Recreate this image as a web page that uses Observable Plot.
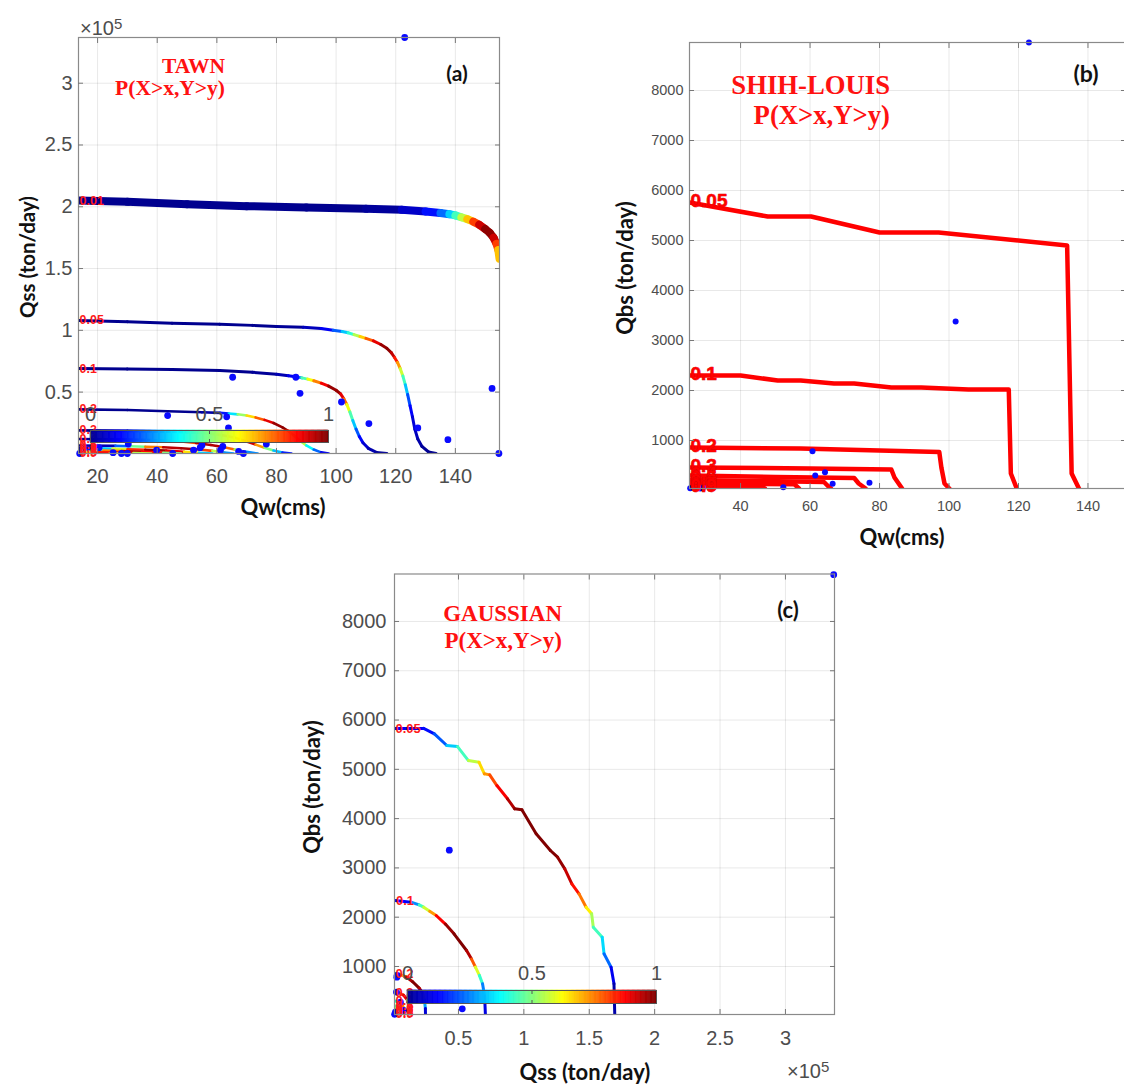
<!DOCTYPE html>
<html><head><meta charset="utf-8">
<script src="https://cdn.jsdelivr.net/npm/d3@7"></script>
<script src="https://cdn.jsdelivr.net/npm/@observablehq/plot@0.6"></script>
<style>
html,body{margin:0;padding:0;background:#fff;overflow:hidden;}
#root{position:relative;width:1124px;height:1085px;overflow:hidden;background:#fff;}
.t{position:absolute;white-space:nowrap;line-height:1;}
.axl{font-family:Lato,"Open Sans",sans-serif;font-weight:700;color:#111;}
.ttl{font-family:"Liberation Serif","Times New Roman",serif;font-weight:700;color:#ff1111;}
.tag{font-family:Lato,"Open Sans",sans-serif;font-weight:700;color:#111;}
.exp{font-family:"Liberation Sans",Arial,sans-serif;color:#4d4d4d;}
.exp sup{font-size:0.75em;vertical-align:0.45em;}
</style></head><body><div id="root"></div><script>
// ---------------- DATA ----------------
// Panel (a) TAWN : x = Qw (cms), y = Qss (x10^5 ton/day), c = colour value along contour
const tawnLevels = ["0.01","0.05","0.1","0.2","0.3","0.4","0.5","0.6","0.7","0.8","0.9"];
const tawn001 = [[13.6,2.05,0],[30,2.04,0],[50,2.02,0],[70,2.005,0],[90,1.995,0],[110,1.983,0],[122,1.975,0.03],[130,1.962,0.1],[135,1.95,0.18],[138,1.94,0.28],[140,1.93,0.38],[142,1.915,0.5],[144,1.9,0.62],[146,1.88,0.75],[148,1.855,0.88],[150,1.82,0.97],[151.5,1.79,1],[152.8,1.75,0.97],[153.8,1.7,0.88],[154.4,1.65,0.75],[154.8,1.58,0.62]];
const tawn005 = [[13.6,1.08,0],[30,1.07,0],[45,1.058,0],[61,1.05,0],[72,1.04,0],[80,1.03,0],[89,1.025,0.02],[95,1.015,0.08],[99,1.0,0.15],[102,0.99,0.28],[104,0.98,0.36],[106,0.965,0.48],[108,0.95,0.62],[110,0.935,0.72],[112.5,0.915,0.85],[115,0.885,0.95],[117,0.855,1],[118.5,0.82,0.97],[119.6,0.78,0.9],[120.6,0.74,0.8],[121.5,0.69,0.65],[122.4,0.63,0.5],[123.2,0.56,0.38],[124,0.48,0.25],[124.8,0.39,0.15],[125.6,0.3,0.1],[126.4,0.2,0.06],[127.4,0.12,0.04],[128.8,0.06,0.02],[131,0.015,0],[133.5,0.003,0]];
const tawn01 = [[13.6,0.69,0],[30,0.687,0],[45,0.683,0],[61,0.675,0],[72,0.66,0],[80,0.645,0.02],[84,0.632,0.06],[86.5,0.625,0.15],[88.5,0.615,0.35],[90.5,0.605,0.55],[92.5,0.592,0.68],[95,0.572,0.82],[97.5,0.548,0.95],[100,0.515,1],[101.5,0.485,0.95],[102.6,0.445,0.85],[103.6,0.4,0.7],[104.6,0.34,0.52],[105.6,0.27,0.38],[106.7,0.2,0.26],[107.8,0.14,0.16],[109,0.09,0.1],[110.8,0.045,0.05],[113.5,0.012,0.02],[117,0.003,0]];
const tawn02 = [[13.6,0.36,0],[30,0.355,0],[43.5,0.345,0],[55,0.337,0],[61,0.332,0.05],[64,0.327,0.25],[67,0.32,0.45],[70,0.31,0.6],[73,0.295,0.72],[76,0.275,0.85],[79,0.25,0.95],[82,0.215,1],[84,0.185,0.97],[86,0.145,0.85],[88,0.105,0.65],[90,0.068,0.45],[92.5,0.035,0.3],[95,0.012,0.15],[97.5,0.003,0.06]];
const tawn03 = [[13.6,0.19,0],[30,0.186,0],[45,0.18,0.04],[50,0.176,0.2],[54,0.171,0.4],[58,0.163,0.6],[62,0.15,0.78],[66,0.13,0.92],[70,0.1,1],[73,0.075,0.85],[76,0.05,0.6],[79,0.027,0.4],[82,0.01,0.22],[85,0.003,0.08]];
const tawn04 = [[13.6,0.12,0],[30,0.116,0.02],[38,0.112,0.2],[43,0.107,0.45],[48,0.1,0.7],[53,0.088,0.9],[58,0.072,1],[62,0.055,0.9],[66,0.036,0.65],[69.5,0.018,0.4],[73.7,0.003,0.12]];
const tawn05 = [[13.6,0.068,0],[26,0.065,0.1],[31,0.062,0.35],[36,0.058,0.62],[42,0.053,0.88],[48,0.046,1],[54,0.036,0.92],[58.5,0.024,0.7],[62.5,0.011,0.42],[65.6,0.003,0.12]];
const tawn06 = [[13.6,0.047,0],[21,0.045,0.2],[25,0.042,0.45],[30,0.038,0.72],[36,0.033,0.95],[43,0.026,1],[49,0.017,0.8],[54,0.008,0.5],[58.5,0.003,0.15]];
const tawn07 = [[13.6,0.03,0],[18,0.029,0.3],[22,0.027,0.6],[28,0.022,0.9],[35,0.016,1],[42,0.008,0.75],[48,0.003,0.25]];
const tawn08 = [[13.6,0.018,0],[16.5,0.017,0.35],[20,0.015,0.7],[26,0.011,1],[32,0.006,0.8],[38,0.003,0.3]];
const tawn09 = [[13.6,0.008,0],[15.5,0.007,0.45],[19,0.005,0.85],[24,0.003,0.9],[29,0.003,0.3]];
const qwA  = [65.3,86.5,87.9,101.8,111,127.4,137.5,152.3,154.6,43.5,63.3,63.9,76.6,30.3,14,20.5,25.2,28,30,39.8,45.2,52.2,54.4,55,61.2,62,67.3,68.9,123];
const qssA = [0.62,0.62,0.49,0.42,0.245,0.21,0.115,0.53,0.003,0.31,0.30,0.21,0.08,0.08,0.003,0.05,0.01,0.003,0.003,0.03,0.003,0.03,0.05,0.07,0.03,0.06,0.02,0.003,3.37];

// Panel (b) SHIH-LOUIS : x = Qw (cms), y = Qbs (ton/day)
const slLevels = ["0.05","0.1","0.2","0.3","0.4","0.5","0.6","0.7","0.8","0.9"];
const sl005 = [[25.3,5760],[47.8,5480],[60.3,5480],[80,5160],[97,5160],[134,4900],[135.3,340],[137.4,40]];
const sl01  = [[25.3,2300],[40,2300],[50.7,2200],[57.3,2200],[66.9,2140],[72.7,2140],[83.4,2060],[92,2060],[105.6,2020],[117.2,2020],[117.8,340],[119.5,40]];
const sl02  = [[25.3,860],[57.3,840],[80,800],[97.2,770],[97.8,460],[98.7,140],[100.1,40]];
const sl03  = [[25.3,460],[60,440],[83.4,420],[84.3,260],[86.5,40]];
const sl04  = [[25.3,300],[50,270],[72.7,250],[74,140],[76,40]];
const sl05  = [[25.3,210],[45,190],[64,170],[65,100],[66,40]];
const sl06  = [[25.3,145],[40,135],[55.5,125],[56.8,40]];
const sl07  = [[25.3,100],[45,85],[47,40]];
const sl08  = [[25.3,70],[36,60],[38,40]];
const sl09  = [[25.3,55],[30,48],[32,40]];
const qwB  = [123,101.9,60.7,61.5,64.3,66.5,77.1,52.3,25.5,28.4,29.2];
const qbsB = [8960,3380,786,300,366,133,153,66,46,40,60];

// Panel (c) GAUSSIAN : x = Qss (x10^5 ton/day), y = Qbs (ton/day), c = colour value
const gaLevels = ["0.05","0.1","0.2","0.3","0.4","0.5","0.6","0.7","0.8","0.9"];
const ga005 = [[0.011,5830,0.1],[0.234,5830,0.12],[0.316,5720,0.15],[0.411,5483,0.27],[0.493,5462,0.38],[0.576,5178,0.5],[0.657,5144,0.62],[0.698,4909,0.7],[0.739,4888,0.76],[0.794,4671,0.84],[0.875,4402,0.92],[0.93,4199,0.98],[0.985,4179,1],[1.094,3692,1],[1.203,3353,1],[1.258,3217,1],[1.313,2981,0.96],[1.367,2677,0.9],[1.422,2474,0.82],[1.476,2203,0.7],[1.518,2069,0.58],[1.531,1797,0.5],[1.599,1594,0.38],[1.613,1258,0.3],[1.667,986,0.16],[1.689,649,0.06],[1.695,26,0]];
const ga01  = [[0.015,2339,0.1],[0.138,2304,0.15],[0.2,2250,0.38],[0.234,2203,0.5],[0.28,2120,0.65],[0.33,2034,0.8],[0.4,1860,0.95],[0.466,1663,1],[0.562,1325,1],[0.6,1150,0.9],[0.63,986,0.68],[0.66,820,0.5],[0.684,649,0.35],[0.7,400,0.15],[0.706,26,0.04]];
const ga02  = [[0.011,852,0.1],[0.05,840,0.55],[0.1,790,0.9],[0.15,690,1],[0.2,560,1],[0.225,470,0.9],[0.24,320,0.45],[0.247,150,0.12],[0.248,26,0.04]];
const ga03  = [[0.011,470,0.1],[0.045,460,0.6],[0.08,420,1],[0.11,320,0.8],[0.125,180,0.3],[0.13,26,0.05]];
const ga04  = [[0.011,300,0.1],[0.04,290,0.7],[0.07,230,1],[0.085,120,0.5],[0.09,26,0.05]];
const ga05  = [[0.011,200,0.15],[0.035,190,0.8],[0.055,140,0.9],[0.065,26,0.1]];
const ga06  = [[0.011,140,0.2],[0.03,130,0.9],[0.045,80,0.7],[0.05,26,0.1]];
const ga07  = [[0.011,95,0.3],[0.025,85,1],[0.035,26,0.2]];
const ga08  = [[0.011,60,0.4],[0.02,50,1],[0.027,26,0.3]];
const ga09  = [[0.011,38,0.5],[0.018,30,0.8]];
const qssC = [0.43,0.529,0.029,0.031,0.026,0.056,0.018,0.08,0.012,3.369];
const qbsC = [3360,142,783,817,480,276,73,108,30,8950];

// Axis ticks
const ticksQwA = [20,40,60,80,100,120,140];
const ticksQssA = [0.5,1,1.5,2,2.5,3];
const ticksQwB = [40,60,80,100,120,140];
const ticksQbs = [1000,2000,3000,4000,5000,6000,7000,8000];
const ticksQssC = [0.5,1,1.5,2,2.5,3];
const ticksBar = [0,0.5,1];

// jet colour map stops
const jetStops = [0,0.125,0.375,0.625,0.875,1];
const jetColors = ["#00008f","#0000ff","#00ffff","#ffff00","#ff0000","#800000"];

// ---------------- HELPERS ----------------
const jetScale = d3.scaleLinear().domain(jetStops).range(jetColors).clamp(true);
const jet = t => jetScale(t);
const colorOpts = {type: "linear", domain: [0, 1], interpolate: jet};
const tickFont = "'Liberation Sans', Arial, Helvetica, sans-serif";
const root = document.getElementById("root");
const fmt = d => String(d);

function segments(levels, curves) {
  const out = [];
  curves.forEach((pts, i) => {
    d3.pairs(pts).forEach(([a, b]) => out.push({level: levels[i], x1: a[0], y1: a[1], x2: b[0], y2: b[1], c: (a[2] + b[2]) / 2}));
  });
  return out;
}
function paths(levels, curves) {
  const out = [];
  curves.forEach((pts, i) => pts.forEach(p => out.push({level: levels[i], x: p[0], y: p[1]})));
  return out;
}
function starts(levels, curves) {
  return curves.map((pts, i) => ({label: levels[i], x: pts[0][0], y: pts[0][1]}));
}
function place(el, left, top) {
  el.style.position = "absolute"; el.style.left = left + "px"; el.style.top = top + "px";
  root.appendChild(el);
}
function makePanel(c) {
  const W = c.fx1 - c.fx0, H = c.fy1 - c.fy0;
  const none = () => "";
  const opts = {
    width: W + c.mL + c.mR, height: H + c.mT + c.mB,
    marginLeft: c.mL, marginRight: c.mR, marginTop: c.mT, marginBottom: c.mB,
    x: {domain: c.xDomain}, y: {domain: c.yDomain},
    style: {fontFamily: tickFont, fontSize: c.fs + "px", color: "#4d4d4d", background: "transparent", overflow: "visible"},
    marks: [
      Plot.gridX({ticks: c.xTicks, stroke: "#000", strokeOpacity: 0.09}),
      Plot.gridY({ticks: c.yTicks, stroke: "#000", strokeOpacity: 0.09}),
      ...c.marks,
      Plot.frame({stroke: "#8a8a8a", strokeWidth: 1.2}),
      Plot.axisX({ticks: c.xTicks, anchor: "bottom", tickSize: 0, tickPadding: c.xPad, tickFormat: fmt, fontSize: c.fs, fill: "#4d4d4d", label: null}),
      Plot.axisY({ticks: c.yTicks, anchor: "left", tickSize: 0, tickPadding: c.yPad, tickFormat: fmt, fontSize: c.fs, fill: "#4d4d4d", label: null}),
      Plot.axisX({ticks: c.xTicks, anchor: "bottom", tickSize: -5, tickFormat: none, stroke: "#777", label: null}),
      Plot.axisX({ticks: c.xTicks, anchor: "top", tickSize: -5, tickFormat: none, stroke: "#777", label: null}),
      Plot.axisY({ticks: c.yTicks, anchor: "left", tickSize: -5, tickFormat: none, stroke: "#777", label: null}),
      Plot.axisY({ticks: c.yTicks, anchor: "right", tickSize: -5, tickFormat: none, stroke: "#777", label: null})
    ]
  };
  if (c.color) opts.color = colorOpts;
  const svg = Plot.plot(opts);
  place(svg, c.fx0 - c.mL, c.fy0 - c.mT);
}
function makeBar(x0, x1, y0, y1, fs, pad) {
  const mL = 20, mR = 20, mT = 34, mB = 2;
  const step = 0.005;
  const steps = d3.range(0, 1, step);
  const svg = Plot.plot({
    width: x1 - x0 + mL + mR, height: y1 - y0 + mT + mB,
    marginLeft: mL, marginRight: mR, marginTop: mT, marginBottom: mB,
    x: {domain: [0, 1]}, y: {domain: [0, 1], axis: null},
    color: colorOpts,
    style: {fontFamily: tickFont, fontSize: fs + "px", color: "#4d4d4d", background: "transparent", overflow: "visible"},
    marks: [
      Plot.rect(steps, {x1: d => d, x2: d => Math.min(1, d + step), y1: 0, y2: 1, fill: d => d + step / 2, stroke: d => d + step / 2, strokeWidth: 0.6}),
      Plot.frame({stroke: "#555", strokeWidth: 1}),
      Plot.axisX({ticks: ticksBar, anchor: "top", tickSize: 0, tickPadding: pad, tickFormat: fmt, fontSize: fs, fill: "#4d4d4d", label: null}),
      Plot.axisX({ticks: ticksBar, anchor: "top", tickSize: -3, tickFormat: () => "", stroke: "#555", label: null}),
      Plot.axisX({ticks: ticksBar, anchor: "bottom", tickSize: -3, tickFormat: () => "", stroke: "#555", label: null})
    ]
  });
  place(svg, x0 - mL, y0 - mT);
}
function text(cls, html, x, y, size, align, rotate) {
  const d = document.createElement("div");
  d.className = "t " + cls;
  d.innerHTML = html;
  d.style.fontSize = size + "px";
  const tx = align === "end" ? "-100%" : align === "start" ? "0" : "-50%";
  d.style.transform = `translate(${tx},-50%)` + (rotate ? " rotate(-90deg)" : "");
  place(d, x, y);
}

// ---------------- PANEL (a) ----------------
const tawnCurves = [tawn001, tawn005, tawn01, tawn02, tawn03, tawn04, tawn05, tawn06, tawn07, tawn08, tawn09];
const segA = segments(tawnLevels, tawnCurves);
const dotsA = qwA.map((x, i) => ({x, y: qssA[i]}));
makePanel({
  fx0: 78, fy0: 37, fx1: 499, fy1: 453, mL: 78, mT: 37, mR: 15, mB: 40,
  xDomain: [13.6, 154.8], yDomain: [0.003, 3.37], xTicks: ticksQwA, yTicks: ticksQssA,
  fs: 20, xPad: 15, yPad: 6, color: true,
  marks: [
    Plot.link(segA, {x1: "x1", y1: "y1", x2: "x2", y2: "y2", stroke: "c", strokeWidth: d => d.level === "0.01" ? 8 : (d.level === "0.05" || d.level === "0.1" ? 3 : 2.6), strokeLinecap: "round", clip: true}),
    Plot.dot(dotsA, {x: "x", y: "y", r: 3.4, fill: "#0a0aff", stroke: "none"}),
    Plot.text(starts(tawnLevels, tawnCurves), {x: "x", y: "y", text: "label", fill: "#ff1a1a", fontSize: 12.5, fontWeight: "bold", fontFamily: tickFont, textAnchor: "start", dx: 1})
  ]
});
makeBar(90, 328, 430, 442, 20, 10);

// ---------------- PANEL (b) ----------------
const slCurves = [sl005, sl01, sl02, sl03, sl04, sl05, sl06, sl07, sl08, sl09];
const dotsB = qwB.map((x, i) => ({x, y: qbsB[i]}));
makePanel({
  fx0: 689, fy0: 42, fx1: 1125, fy1: 488, mL: 60, mT: 10, mR: 2, mB: 30,
  xDomain: [25.3, 150.8], yDomain: [40, 8960], xTicks: ticksQwB, yTicks: ticksQbs,
  fs: 14.5, xPad: 12, yPad: 6,
  marks: [
    Plot.line(paths(slLevels, slCurves), {x: "x", y: "y", z: "level", stroke: "#ff0000", strokeWidth: 4.5, strokeLinejoin: "round", strokeLinecap: "round", clip: true}),
    Plot.dot(dotsB, {x: "x", y: "y", r: 3, fill: "#0a0aff", stroke: "none"}),
    Plot.text(starts(slLevels, slCurves), {x: "x", y: "y", text: "label", fill: "#ff0000", stroke: "#d00000", strokeWidth: 0.6, fontSize: 19, fontWeight: "bold", fontFamily: tickFont, textAnchor: "start", dx: 1, dy: -2})
  ]
});

// ---------------- PANEL (c) ----------------
const gaCurves = [ga005, ga01, ga02, ga03, ga04, ga05, ga06, ga07, ga08, ga09];
const segC = segments(gaLevels, gaCurves);
const dotsC = qssC.map((x, i) => ({x, y: qbsC[i]}));
makePanel({
  fx0: 394, fy0: 573.5, fx1: 834, fy1: 1014, mL: 70, mT: 13.5, mR: 10, mB: 40,
  xDomain: [0.011, 3.375], yDomain: [26, 8963], xTicks: ticksQssC, yTicks: ticksQbs,
  fs: 20, xPad: 16, yPad: 8, color: true,
  marks: [
    Plot.link(segC, {x1: "x1", y1: "y1", x2: "x2", y2: "y2", stroke: "c", strokeWidth: 3, strokeLinecap: "round", clip: true}),
    Plot.dot(dotsC, {x: "x", y: "y", r: 3.4, fill: "#0a0aff", stroke: "none"}),
    Plot.text(starts(gaLevels, gaCurves), {x: "x", y: "y", text: "label", fill: "#ff1a1a", fontSize: 13, fontWeight: "bold", fontFamily: tickFont, textAnchor: "start", dx: 1})
  ]
});
makeBar(407, 656, 990, 1003, 20, 11);

// ---------------- TEXT ----------------
text("exp", "×10<sup>5</sup>", 80, 27, 20, "start");
text("axl", "Qss (ton/day)", 27, 257, 20.5, "center", true);
text("axl", "Qw(cms)", 283, 507, 22, "center");
text("ttl", "TAWN", 225, 67, 21.5, "end");
text("ttl", "P(X&gt;x,Y&gt;y)", 225, 89, 21.5, "end");
text("tag", "(a)", 457, 72, 21, "center");

text("axl", "Qbs (ton/day)", 625, 268, 22, "center", true);
text("axl", "Qw(cms)", 902, 537, 22, "center");
text("ttl", "SHIH-LOUIS", 890, 85, 26.7, "end");
text("ttl", "P(X&gt;x,Y&gt;y)", 890, 115, 26.7, "end");
text("tag", "(b)", 1086, 73, 23, "center");

text("axl", "Qbs (ton/day)", 312, 787, 22, "center", true);
text("axl", "Qss (ton/day)", 585, 1072, 22, "center");
text("exp", "×10<sup>5</sup>", 787, 1070, 20, "start");
text("ttl", "GAUSSIAN", 562, 613, 23, "end");
text("ttl", "P(X&gt;x,Y&gt;y)", 562, 640, 23, "end");
text("tag", "(c)", 788, 610, 22, "center");
</script></body></html>
